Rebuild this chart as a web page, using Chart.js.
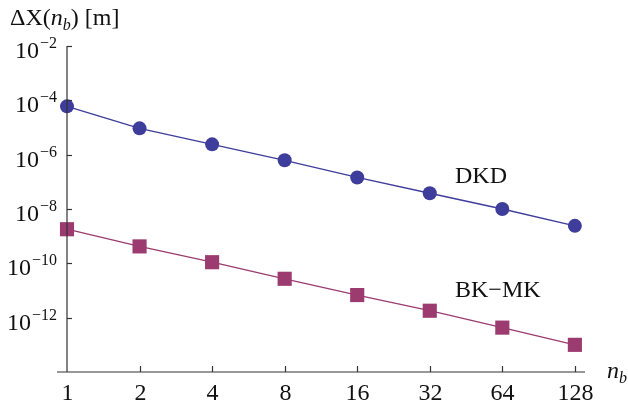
<!DOCTYPE html>
<html>
<head>
<meta charset="utf-8">
<script src="https://cdn.jsdelivr.net/npm/chart.js@4.4.0/dist/chart.umd.min.js"></script>
<style>
  html, body { margin: 0; padding: 0; background: #fff; }
  #wrap { width: 628px; height: 409px; position: relative; }
</style>
</head>
<body>
<div id="wrap"><canvas id="chart"></canvas></div>
<script>
// block counts on the x axis (log2 spaced)
const nb = [1, 2, 4, 8, 16, 32, 64, 128];
// position error Delta X(n_b) in metres
const dkd = [6.0e-5, 9.3e-6, 2.4e-6, 6.2e-7, 1.45e-7, 3.8e-8, 1.0e-8, 2.4e-9];
const bkmk = [1.8e-9, 4.2e-10, 1.1e-10, 2.7e-11, 6.8e-12, 1.8e-12, 4.3e-13, 1.0e-13];
// y tick exponents (labelled ones)
const yExps = [-2, -4, -6, -8, -10, -12];

const serif = '"Liberation Serif", "DejaVu Serif", serif';
const axisColor = "#333";

function toPoints(ys) {
  return nb.map((n, i) => ({ x: n, y: ys[i] }));
}

// draws axes, inward ticks and the math-style labels
const axesPlugin = {
  id: "axes",
  afterDatasetsDraw(chart) {
    const ctx = chart.ctx;
    const xs = chart.scales.x, ys = chart.scales.y;
    const x0 = xs.getPixelForValue(1);
    const yBot = ys.getPixelForValue(1e-14);
    const yTop = ys.getPixelForValue(1e-2);
    ctx.save();
    ctx.strokeStyle = axisColor;
    ctx.lineWidth = 1.2;
    ctx.beginPath();
    ctx.moveTo(x0, yTop);
    ctx.lineTo(x0, yBot);
    ctx.moveTo(x0 - 10, yBot);
    ctx.lineTo(chart.chartArea.right, yBot);
    ctx.stroke();

    // y ticks + labels
    ctx.fillStyle = "#111";
    yExps.forEach(e => {
      const py = Math.round(ys.getPixelForValue(Math.pow(10, e))) + 0.5;
      ctx.beginPath();
      ctx.moveTo(x0, py);
      ctx.lineTo(x0 + 5, py);
      ctx.stroke();
      ctx.font = "16px " + serif;
      ctx.textAlign = "right";
      ctx.textBaseline = "alphabetic";
      const sup = "\u2212" + Math.abs(e);
      ctx.fillText(sup, x0 - 10, py + 1);
      const sw = ctx.measureText(sup).width;
      ctx.font = "24px " + serif;
      ctx.fillText("10", x0 - 10 - sw - 1, py + 11);
    });

    // x ticks + labels
    nb.forEach(n => {
      const px = Math.round(xs.getPixelForValue(n)) + 0.5;
      if (n > 1) {
        ctx.beginPath();
        ctx.moveTo(px, yBot);
        ctx.lineTo(px, yBot - 6);
        ctx.stroke();
      }
      ctx.font = "24px " + serif;
      ctx.textAlign = "center";
      ctx.fillText(String(n), px, yBot + 28);
    });

    // axis titles
    ctx.textAlign = "left";
    ctx.font = "italic 24px " + serif;
    ctx.fillText("n", 607, yBot + 6);
    ctx.font = "italic 16px " + serif;
    ctx.fillText("b", 619, yBot + 11);

    let tx = 10;
    const put = (s, font, dy) => {
      ctx.font = font;
      ctx.fillText(s, tx, 25 + dy);
      tx += ctx.measureText(s).width;
    };
    put("\u0394X(", "24px " + serif, 0);
    put("n", "italic 24px " + serif, 0);
    put("b", "italic 16px " + serif, 5);
    put(") [m]", "24px " + serif, 0);

    // series labels
    ctx.font = "24px " + serif;
    ctx.fillText("DKD", 455, 183);
    ctx.fillText("BK\u2212MK", 455, 297);
    ctx.restore();
  }
};

new Chart(document.getElementById("chart"), {
  type: "line",
  data: {
    datasets: [
      {
        label: "DKD",
        data: toPoints(dkd),
        borderColor: "#3e3d9b",
        backgroundColor: "#3e3d9b",
        borderWidth: 1.3,
        pointStyle: "circle",
        pointRadius: 7,
        pointBorderWidth: 0,
        clip: false
      },
      {
        label: "BK-MK",
        data: toPoints(bkmk),
        borderColor: "#9b3b6f",
        backgroundColor: "#9b3b6f",
        borderWidth: 1.3,
        pointStyle: "rect",
        pointRadius: 10,
        pointBorderWidth: 0,
        clip: false
      }
    ]
  },
  options: {
    responsive: true,
    maintainAspectRatio: false,
    animation: false,
    layout: { padding: { left: 67, right: 43, top: 46, bottom: 37 } },
    plugins: { legend: { display: false }, tooltip: { enabled: false } },
    scales: {
      x: { type: "logarithmic", min: 1, max: 141, display: false },
      y: { type: "logarithmic", min: 1e-14, max: 1e-2, display: false }
    }
  },
  plugins: [axesPlugin]
});
</script>
</body>
</html>
